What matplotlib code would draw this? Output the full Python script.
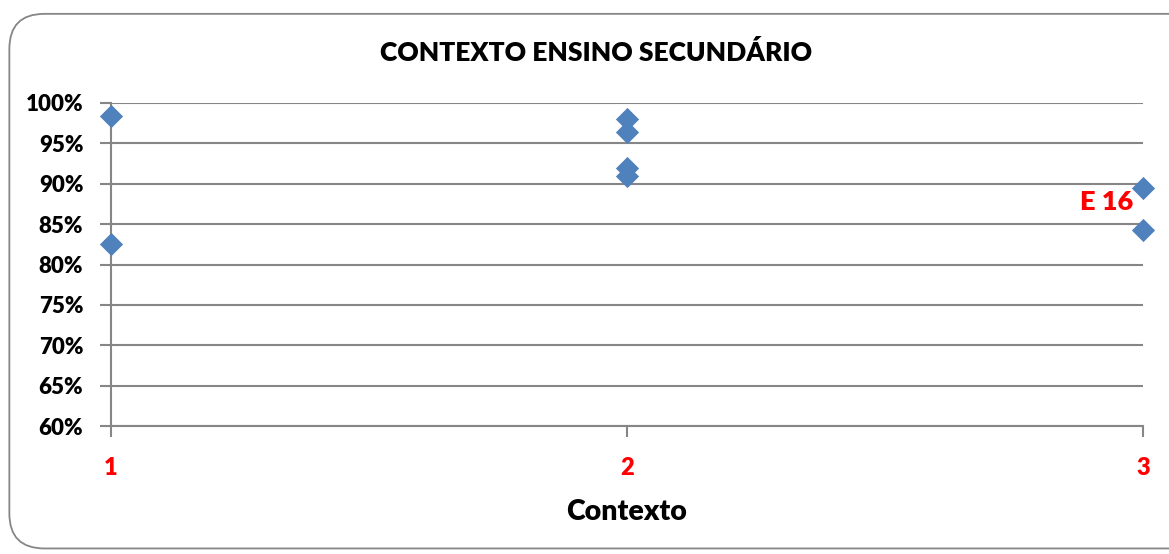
import numpy as np
import matplotlib.pyplot as plt
from matplotlib.patches import FancyBboxPatch

plt.rcParams['font.family'] = ['Lato', 'DejaVu Sans']
plt.rcParams['font.weight'] = 'heavy'

# data
contexto = [1, 1, 2, 2, 2, 2, 3, 3]
valores = [98.4, 82.5, 98.0, 96.4, 92.0, 91.0, 89.5, 84.3]
x_labels = ['1', '2', '3']
y_ticks = [60, 65, 70, 75, 80, 85, 90, 95, 100]

fig = plt.figure(figsize=(11.69, 5.54), dpi=100)
# rounded frame round the chart
frame = FancyBboxPatch((0.008, 0.01), 1.2, 0.965, boxstyle="round,pad=0,rounding_size=0.03",
                       transform=fig.transFigure, facecolor='white', edgecolor='#868686',
                       linewidth=1.3, mutation_aspect=1169/554, zorder=-10)
fig.patches.append(frame)

ax = fig.add_axes([0.095, 0.231, 0.8828, 0.5831])
ax.set_facecolor('none')
ax.scatter(contexto, valores, marker='D', s=140, color='#4F81BD', zorder=3, clip_on=False, linewidths=0)

ax.set_xlim(1, 3)
ax.set_ylim(60, 100)
ax.set_yticks(y_ticks)
ax.set_yticklabels([f'{v}%' for v in y_ticks], fontsize=16, fontweight='heavy')
ax.set_xticks([1, 2, 3])
ax.set_xticklabels(x_labels, fontsize=17, fontweight='heavy', color='red')
ax.grid(axis='y', color='#868686', linewidth=1.5)
ax.set_axisbelow(True)
for s in ['top', 'right']:
    ax.spines[s].set_visible(False)
for s in ['left', 'bottom']:
    ax.spines[s].set_color('#868686')
    ax.spines[s].set_linewidth(1.5)
ax.tick_params(axis='both', color='#868686', width=1.5, length=8)
ax.tick_params(axis='x', pad=14)
ax.tick_params(axis='y', pad=12)

ax.set_xlabel('Contexto', fontsize=20.5, fontweight='heavy', labelpad=15)
fig.text(0.51, 0.905, 'CONTEXTO ENSINO SECUNDÁRIO', ha='center', va='center',
         fontsize=19, fontweight='heavy')
ax.annotate('E 16', (3, 89.5), xytext=(-7, -10), textcoords='offset points',
            ha='right', va='center', fontsize=19.5, fontweight='heavy', color='red')

fig.savefig('out.png', dpi=100)
